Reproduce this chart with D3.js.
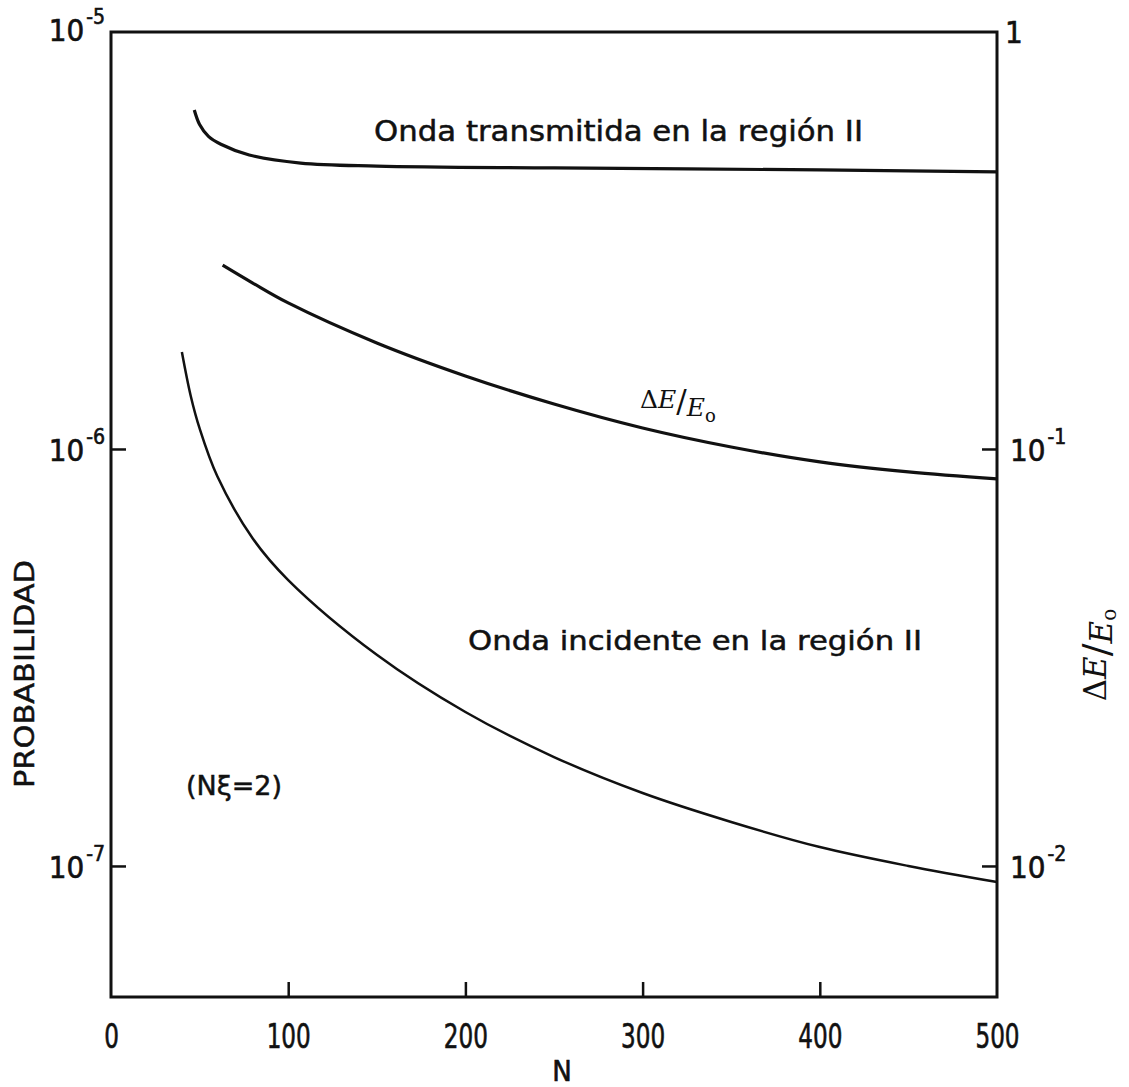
<!DOCTYPE html>
<html>
<head>
<meta charset="utf-8">
<script src="https://cdn.jsdelivr.net/npm/d3@7"></script>
<style>
  html, body { margin: 0; padding: 0; background: #fff; }
  svg { display: block; }
  .sans { font-family: "DejaVu Sans", "Liberation Sans", sans-serif; fill: #111; stroke: #111; stroke-width: 0.5; }
  .narrow { font-family: "Liberation Sans Narrow", "DejaVu Sans Condensed", "DejaVu Sans", sans-serif; fill: #111; stroke: #111; stroke-width: 0.6; }
  .serif { font-family: "DejaVu Serif", "Liberation Serif", serif; font-style: italic; fill: #111; }
</style>
</head>
<body>
<svg id="chart" width="1129" height="1087"></svg>
<script>
// ---- data ----
const xTicks = [0, 100, 200, 300, 400, 500];
const leftTicks = [1e-5, 1e-6, 1e-7];
const leftTickLabels = ["-5", "-6", "-7"];
const rightTicks = [1, 1e-1, 1e-2];
const rightTickLabels = ["", "-1", "-2"];

// Onda transmitida en la región II (probability, left axis)
const transN = [47, 50, 55, 62, 78, 107, 150, 250, 400, 500];
const transP = [6.50e-6, 6.00e-6, 5.62e-6, 5.38e-6, 5.07e-6, 4.85e-6, 4.77e-6, 4.72e-6, 4.67e-6, 4.62e-6];

// ΔE/E0 (right axis)
const deN = [63, 80, 100, 150, 200, 250, 300, 350, 400, 450, 500];
const deV = [0.276, 0.250, 0.224, 0.1796, 0.1497, 0.1282, 0.1123, 0.1011, 0.0931, 0.0881, 0.0848];

// Onda incidente en la región II (probability, left axis)
const incN = [40, 45, 50, 60, 80, 100, 150, 200, 250, 300, 350, 400, 450, 500];
const incP = [1.708e-6, 1.34e-6, 1.12e-6, 8.60e-7, 6.10e-7, 4.85e-7, 3.21e-7, 2.34e-7, 1.825e-7, 1.496e-7, 1.275e-7, 1.11e-7, 1.0e-7, 9.15e-8];

// ---- layout ----
const L = 111, R = 997, T = 32, B = 997;
const svg = d3.select("#chart");

const x = d3.scaleLinear().domain([0, 500]).range([L, R]);
const yL = d3.scaleLog().domain([4.85e-8, 1e-5]).range([B, T]);
const yR = d3.scaleLog().domain([4.85e-3, 1]).range([B, T]);

// frame
svg.append("rect")
  .attr("x", L).attr("y", T).attr("width", R - L).attr("height", B - T)
  .attr("fill", "none").attr("stroke", "#111").attr("stroke-width", 3);

// x axis
const gx = svg.append("g").attr("transform", `translate(0,${B})`)
  .call(d3.axisBottom(x).tickValues(xTicks).tickSize(-15).tickPadding(28).tickFormat(d3.format("d")));
gx.select(".domain").remove();
gx.selectAll(".tick line").attr("stroke", "#111").attr("stroke-width", 2.5)
  .filter(d => d === 0 || d === 500).remove();
gx.selectAll(".tick text").attr("class", "narrow").attr("font-size", 33).attr("fill", "#111")
  .attr("textLength", d => String(d).length * 14.7).attr("lengthAdjust", "spacingAndGlyphs");

// left axis
const gl = svg.append("g").attr("transform", `translate(${L},0)`)
  .call(d3.axisLeft(yL).tickValues(leftTicks).tickSize(-15).tickPadding(6).tickFormat(() => ""));
gl.select(".domain").remove();
gl.selectAll(".tick line").attr("stroke", "#111").attr("stroke-width", 2.5)
  .filter(d => d === 1e-5).remove();
gl.selectAll(".tick text").each(function(d, i) {
  const t = d3.select(this).attr("class", "narrow").attr("font-size", 31).attr("fill", "#111")
    .attr("dy", d === 1e-5 ? 8 : 12);
  t.append("tspan").text("10");
  t.append("tspan").attr("font-size", 21).attr("dx", 2).attr("dy", -17).text(leftTickLabels[i]);
});

// right axis
const gr = svg.append("g").attr("transform", `translate(${R},0)`)
  .call(d3.axisRight(yR).tickValues(rightTicks).tickSize(-15).tickPadding(13).tickFormat(() => ""));
gr.select(".domain").remove();
gr.selectAll(".tick line").attr("stroke", "#111").attr("stroke-width", 2.5)
  .filter(d => d === 1).remove();
gr.selectAll(".tick text").each(function(d, i) {
  const t = d3.select(this).attr("class", "narrow").attr("font-size", 31).attr("fill", "#111")
    .attr("dy", 12);
  if (d === 1) {
    t.attr("dy", 10).attr("dx", -5).text("1");
  } else {
    t.append("tspan").text("10");
    t.append("tspan").attr("font-size", 21).attr("dx", 2).attr("dy", -17).text(rightTickLabels[i]);
  }
});

// curves
const lineL = d3.line().x(d => x(d[0])).y(d => yL(d[1])).curve(d3.curveCatmullRom.alpha(0.5));
const lineR = d3.line().x(d => x(d[0])).y(d => yR(d[1])).curve(d3.curveCatmullRom.alpha(0.5));

svg.append("path").datum(d3.zip(transN, transP)).attr("d", lineL)
  .attr("fill", "none").attr("stroke", "#111").attr("stroke-width", 3.2);
svg.append("path").datum(d3.zip(deN, deV)).attr("d", lineR)
  .attr("fill", "none").attr("stroke", "#111").attr("stroke-width", 3.2);
svg.append("path").datum(d3.zip(incN, incP)).attr("d", lineL)
  .attr("fill", "none").attr("stroke", "#111").attr("stroke-width", 2.5);

// annotations
svg.append("text").attr("class", "sans").attr("x", 374).attr("y", 141)
  .attr("font-size", 28).attr("textLength", 489).attr("lengthAdjust", "spacingAndGlyphs")
  .text("Onda transmitida en la región II");
svg.append("text").attr("class", "sans").attr("x", 468).attr("y", 650)
  .attr("font-size", 27).attr("textLength", 454).attr("lengthAdjust", "spacingAndGlyphs")
  .text("Onda incidente en la región II");
svg.append("text").attr("class", "sans").attr("x", 186).attr("y", 795)
  .attr("font-size", 27).attr("textLength", 96).attr("lengthAdjust", "spacing")
  .text("(Nξ=2)");

// ΔE/E0 label on curve
const lab = svg.append("text").attr("class", "serif").attr("x", 640).attr("y", 408).attr("font-size", 25);
lab.append("tspan").attr("font-style", "normal").text("Δ");
lab.append("tspan").text("E");
lab.append("tspan").attr("font-style", "normal").attr("font-size", 31).attr("dy", 4).text("/");
lab.append("tspan").attr("dy", 4).text("E");
lab.append("tspan").attr("font-size", 18).attr("font-style", "normal").attr("dy", 6).text("o");

// axis titles
svg.append("text").attr("class", "sans")
  .attr("transform", "translate(34,674) rotate(-90)")
  .attr("text-anchor", "middle").attr("font-size", 27)
  .attr("textLength", 228).attr("lengthAdjust", "spacingAndGlyphs")
  .text("PROBABILIDAD");
svg.append("text").attr("class", "narrow").attr("x", 562).attr("y", 1081)
  .attr("text-anchor", "middle").attr("font-size", 29).text("N");

const rt = svg.append("text").attr("class", "serif")
  .attr("transform", "translate(1106,655) rotate(-90)")
  .attr("text-anchor", "middle").attr("font-size", 31);
rt.append("tspan").attr("font-style", "normal").text("Δ");
rt.append("tspan").text("E");
rt.append("tspan").attr("font-style", "normal").attr("font-size", 38).attr("dy", 3).text("/");
rt.append("tspan").attr("dy", 3).text("E");
rt.append("tspan").attr("font-size", 20).attr("font-style", "normal").attr("dy", 4).text("o");
</script>
</body>
</html>
